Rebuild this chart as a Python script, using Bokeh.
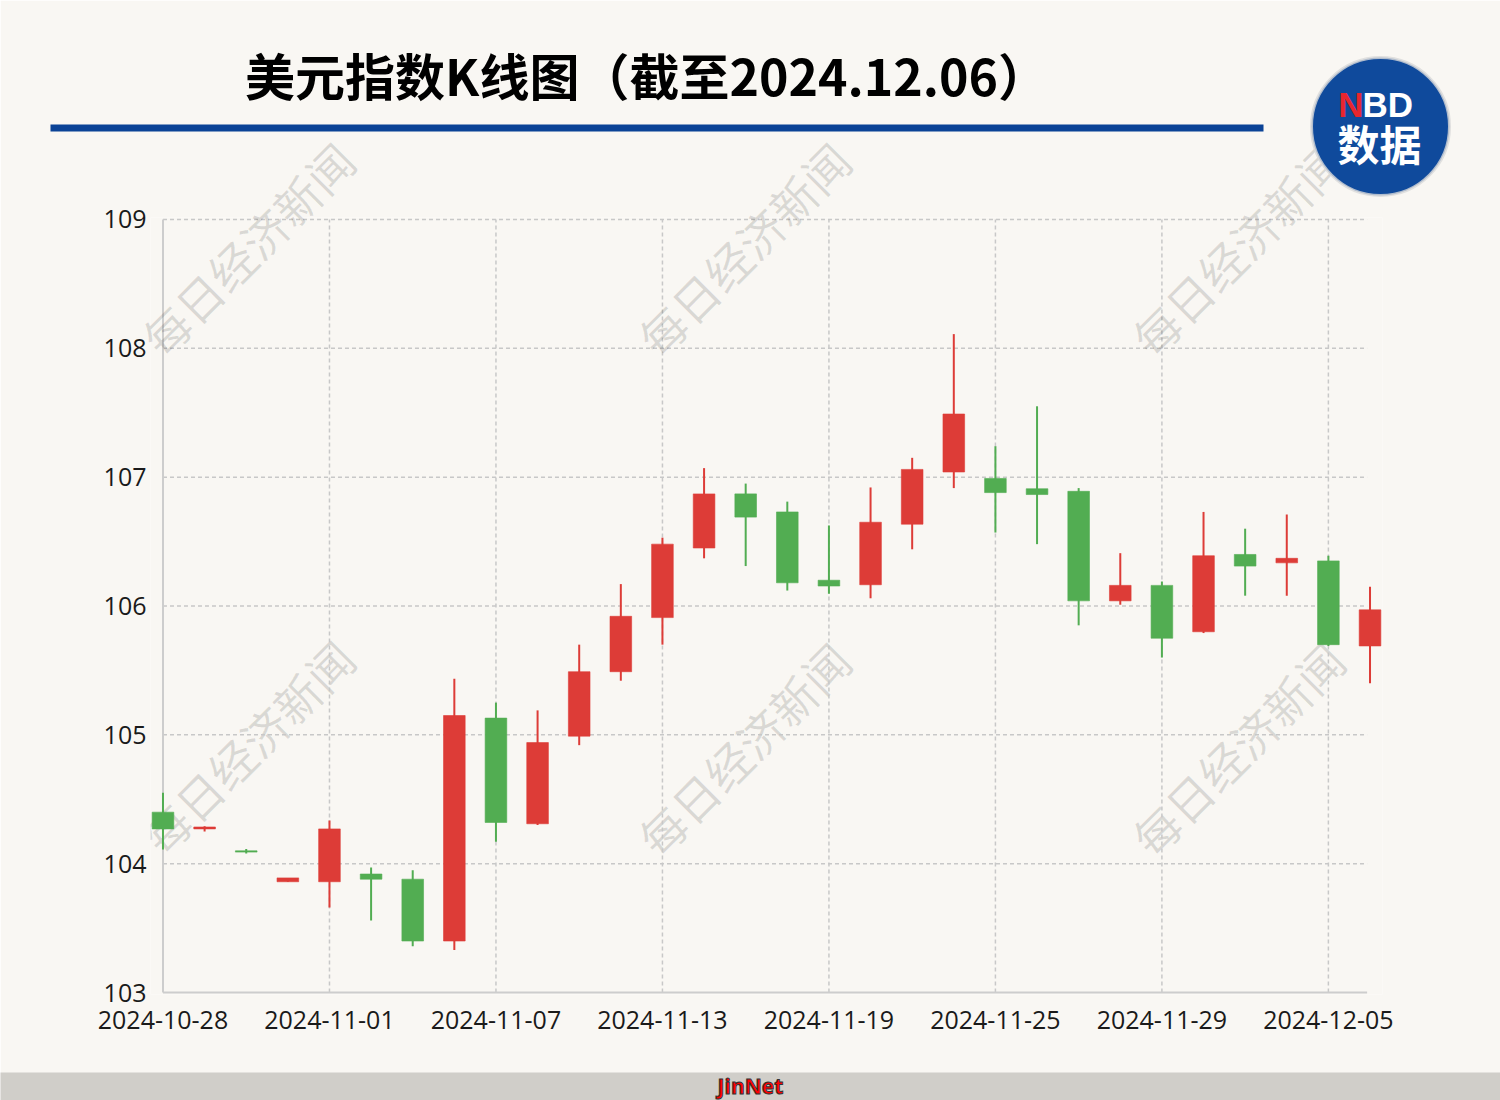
from bokeh.plotting import figure
from bokeh.models import Range1d, FixedTicker, ColumnDataSource
from bokeh.embed import file_html
from bokeh.resources import INLINE
from bokeh.core.properties import value

# ---------------- data ----------------
dates = ["2024-10-28", "2024-10-29", "2024-10-30", "2024-10-31", "2024-11-01",
         "2024-11-04", "2024-11-05", "2024-11-06", "2024-11-07", "2024-11-08",
         "2024-11-11", "2024-11-12", "2024-11-13", "2024-11-14", "2024-11-15",
         "2024-11-18", "2024-11-19", "2024-11-20", "2024-11-21", "2024-11-22",
         "2024-11-25", "2024-11-26", "2024-11-27", "2024-11-28", "2024-11-29",
         "2024-12-02", "2024-12-03", "2024-12-04", "2024-12-05", "2024-12-06"]
opens = [104.40, 104.27, 104.10, 103.86, 103.86, 103.92, 103.88, 103.40, 105.13, 104.31,
         104.99, 105.49, 105.91, 106.45, 106.87, 106.73, 106.20, 106.165, 106.635, 107.04,
         106.99, 106.91, 106.89, 106.04, 106.16, 105.80, 106.40, 106.335, 106.35, 105.69]
highs = [104.55, 104.29, 104.115, 103.89, 104.335, 103.97, 103.95, 105.435, 105.25, 105.19,
         105.70, 106.17, 106.53, 107.07, 106.95, 106.81, 106.625, 106.92, 107.15, 108.11,
         107.24, 107.55, 106.915, 106.41, 106.19, 106.73, 106.60, 106.71, 106.39, 106.15]
lows = [104.11, 104.25, 104.08, 103.86, 103.66, 103.56, 103.36, 103.33, 104.17, 104.30,
        104.92, 105.42, 105.70, 106.37, 106.31, 106.12, 106.095, 106.06, 106.44, 106.915,
        106.57, 106.48, 105.85, 106.01, 105.60, 105.79, 106.08, 106.08, 105.69, 105.40]
closes = [104.27, 104.285, 104.09, 103.89, 104.27, 103.88, 103.40, 105.15, 104.32, 104.94,
          105.49, 105.92, 106.48, 106.87, 106.69, 106.18, 106.155, 106.65, 107.06, 107.49,
          106.88, 106.865, 106.04, 106.16, 105.75, 106.39, 106.31, 106.37, 105.70, 105.97]
y_ticks = [103, 104, 105, 106, 107, 108, 109]
x_tick_idx = [0, 4, 8, 12, 16, 20, 24, 28]
title_text = "美元指数K线图（截至2024.12.06）"
watermark_text = "每日经济新闻"
logo_n = "N"
logo_bd = "BD"
logo_cn = "数据"
footer_text = "JinNet"

# ---------------- styles ----------------
BG = "#f9f7f3"
UP = "#dd3c37"
DOWN = "#52ad52"
GRID = "#c8c8c8"
AXIS = "#cdcdcd"
BLUE = "#0b4396"
LOGO = "#0f4a9c"
FOOT = "#d0cec9"
CJK = "Noto Sans CJK SC"
W, H = 1500, 1100

idx = list(range(len(dates)))
colors = [UP if c >= o else DOWN for o, c in zip(opens, closes)]
tops = [max(o, c) for o, c in zip(opens, closes)]
bottoms = [min(o, c) for o, c in zip(opens, closes)]
src = ColumnDataSource(dict(x=idx, high=highs, low=lows, top=tops, bottom=bottoms, color=colors))

# ---------------- figure ----------------
X0, X1 = -0.3, 29.3
Y0, Y1 = 102.985, 109.015
BL, BR, BT, BB = 150, 118, 217, 106
p = figure(width=W, height=H, x_range=Range1d(X0, X1), y_range=Range1d(Y0, Y1),
           output_backend="svg", toolbar_location=None,
           min_border_left=BL, min_border_right=BR, min_border_top=BT, min_border_bottom=BB)
p.background_fill_color = BG
p.border_fill_color = BG
p.outline_line_color = None
p.xgrid.visible = False
p.ygrid.visible = False

UX = (W - BL - BR) / (X1 - X0)
UY = (H - BT - BB) / (Y1 - Y0)

def dx(px):
    return X0 + (px - BL) / UX

def dy(py):
    return Y1 - (py - BT) / UY

# grid and axis lines
GX_END = 28.93
hl = y_ticks[1:]
p.segment(x0=[0] * len(hl), y0=hl, x1=[GX_END] * len(hl), y1=hl,
          line_color=GRID, line_width=1.5, line_dash="4 3")
vl = x_tick_idx[1:]
p.segment(x0=vl, y0=[y_ticks[0]] * len(vl), x1=vl, y1=[y_ticks[-1]] * len(vl),
          line_color=GRID, line_width=1.5, line_dash="4 3")
p.segment(x0=[0, 0], y0=[y_ticks[0], y_ticks[0]], x1=[0, GX_END], y1=[y_ticks[-1], y_ticks[0]],
          line_color=AXIS, line_width=2)

# lower watermarks (inside plot, beneath the candles)
wm_low = p.text(x=[dx(247), dx(743), dx(1237)], y=[dy(746), dy(748), dy(748)],
                text=[watermark_text] * 3, text_font=value(CJK), text_font_size=value("46px"),
                text_color="#000000", text_alpha=0.12, angle=0.785,
                text_align="center", text_baseline="middle")
wm_low.level = "underlay"

# candles
p.segment(x0="x", y0="low", x1="x", y1="high", line_color="color", line_width=2, source=src)
p.vbar(x="x", width=0.52, top="top", bottom="bottom", fill_color="color",
       line_color="color", line_width=0.6, source=src)

# header / footer decorations (drawn unclipped at overlay level)
deco = []
deco.append(p.text(x=[dx(247), dx(743), dx(1237)], y=[dy(248)] * 3,
                   text=[watermark_text] * 3, text_font=value(CJK), text_font_size=value("46px"),
                   text_color="#000000", text_alpha=0.12, angle=0.785,
                   text_align="center", text_baseline="middle"))
deco.append(p.text(x=[dx(646)], y=[dy(73)], text=[title_text], text_font=value(CJK),
                   text_font_size=value("50px"), text_font_style="bold", text_color="#000000",
                   text_align="center", text_baseline="middle"))
deco.append(p.quad(left=[dx(50)], right=[dx(1263)], top=[dy(124)], bottom=[dy(131)],
                   fill_color=BLUE, line_color=None))
deco.append(p.circle(x=[dx(1380)], y=[dy(126)], radius=69 / UX, fill_color=LOGO,
                     line_color="#d9d9d9", line_width=3, line_alpha=0.8))
deco.append(p.text(x=[dx(1363)], y=[dy(104)], text=[logo_n], text_font=value("Liberation Sans"),
                   text_font_size=value("35px"), text_font_style="bold", text_color="#e8262e",
                   text_align="right", text_baseline="middle"))
deco.append(p.text(x=[dx(1362)], y=[dy(104)], text=[logo_bd], text_font=value("Liberation Sans"),
                   text_font_size=value("35px"), text_font_style="bold", text_color="#ffffff",
                   text_align="left", text_baseline="middle"))
deco.append(p.text(x=[dx(1379)], y=[dy(142)], text=[logo_cn], text_font=value(CJK),
                   text_font_size=value("42px"), text_font_style="bold", text_color="#ffffff",
                   text_align="center", text_baseline="middle"))
deco.append(p.quad(left=[dx(0)], right=[dx(W)], top=[dy(1072)], bottom=[dy(H)],
                   fill_color=FOOT, line_color=None))
deco.append(p.text(x=[dx(750)], y=[dy(1085)], text=[footer_text], text_font=value("Open Sans"),
                   text_font_size=value("21px"), text_font_style="bold", text_color="#ff0000",
                   text_outline_color="#333333", text_align="center", text_baseline="middle"))
for r in deco:
    r.level = "overlay"

# axes
p.xaxis.ticker = FixedTicker(ticks=x_tick_idx)
p.xaxis.major_label_overrides = {i: dates[i] for i in x_tick_idx}
p.yaxis.ticker = FixedTicker(ticks=y_ticks)
for ax in (p.xaxis[0], p.yaxis[0]):
    ax.axis_line_color = None
    ax.major_tick_line_color = None
    ax.minor_tick_line_color = None
    ax.major_tick_out = 0
    ax.major_tick_in = 0
    ax.minor_tick_out = 0
    ax.minor_tick_in = 0
    ax.major_label_text_font = "Open Sans"
    ax.major_label_text_font_size = "25px"
    ax.major_label_text_color = "#1a1a1a"
p.xaxis.major_label_standoff = 16
p.yaxis.major_label_standoff = 4

open("out.html", "w").write(file_html(p, INLINE))
